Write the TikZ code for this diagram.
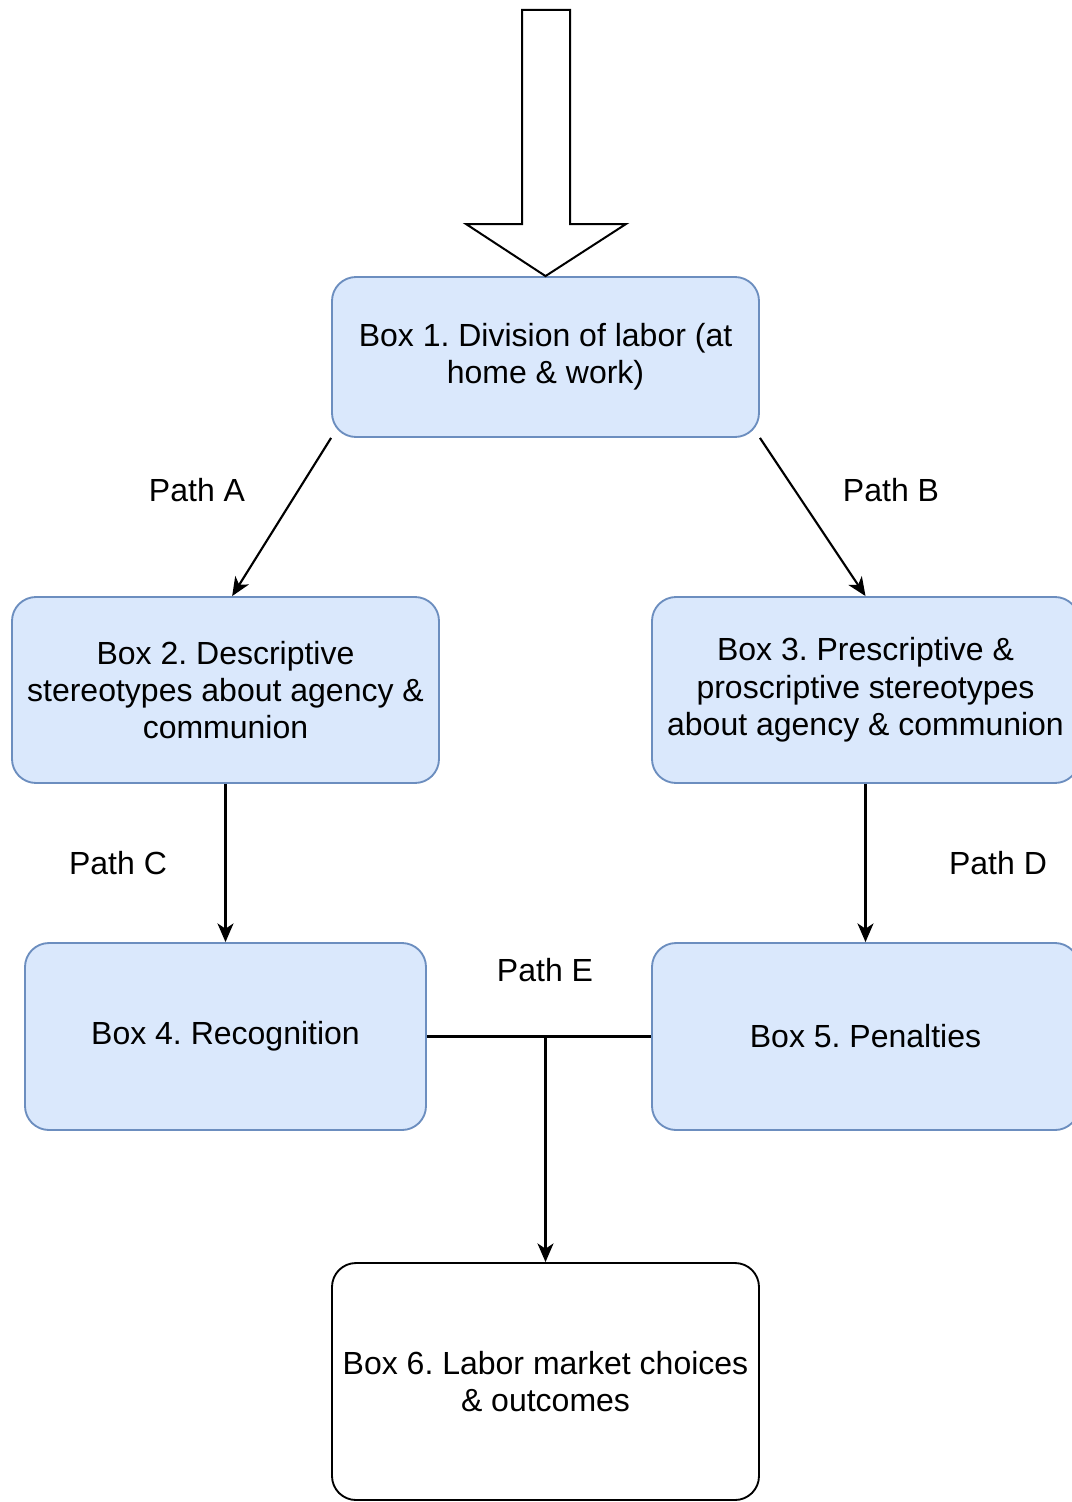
\documentclass[tikz,border=0pt]{standalone}
\usepackage{fontspec}
\setmainfont{Liberation Sans}
\usetikzlibrary{arrows.meta}
\definecolor{boxfill}{HTML}{DAE8FC}
\definecolor{boxline}{HTML}{6C8EBF}
\frenchspacing

\begin{document}
\begin{tikzpicture}[x=0.75pt,y=-0.75pt,>={Stealth[length=14pt,width=12pt,inset=4pt]},
    box/.style={draw=boxline,fill=boxfill,line width=1.4pt,rounded corners=18pt,
      align=center,inner sep=0pt,font=\fontsize{24}{28}\selectfont},
    endbox/.style={box,draw=black,fill=white},
    pathlabel/.style={font=\fontsize{24}{28}\selectfont},
    conn/.style={line width=1.6pt}]
    \useasboundingbox (0,0) rectangle (1071,1502);
    % boxes
    \node (b1) at (545.5,357) [box,minimum width=320.25pt,minimum height=120pt]{Box 1. Division of labor (at\\home \& work)};
    \node (b2) at (225.5,690) [box,minimum width=320.25pt,minimum height=139.5pt]{Box 2. Descriptive\\stereotypes about agency \&\\communion};
    \node (b3) at (865.5,690) [box,minimum width=320.25pt,minimum height=139.5pt]{Box 3. Prescriptive \&\\proscriptive stereotypes\\about agency \& communion};
    \node (b4) at (225.5,1036.5) [box,minimum width=300.75pt,minimum height=140.25pt]{Box 4. Recognition};
    \node (b5) at (865.5,1036.5) [box,minimum width=320.25pt,minimum height=140.25pt]{Box 5. Penalties};
    \node (b6) at (545.5,1381.5) [endbox,minimum width=320.25pt,minimum height=177.75pt]{Box 6. Labor market choices\\\& outcomes};
    % input arrow
    \draw[line width=1.5pt,fill=white] (b1.north) -- (466,224) -- (522,224) -- (522,10)
      -- (570,10) -- (570,224) -- (626,224) -- cycle;
    % path labels
    \node (la) at (197,490) [pathlabel]{Path A};
    \node (lb) at (891,490) [pathlabel]{Path B};
    \node (lc) at (118,863) [pathlabel]{Path C};
    \node (ld) at (998,863) [pathlabel]{Path D};
    \node (le) at (545,970) [pathlabel]{Path E};
    % edges
    \draw[conn,->] (b1.south west) -- ([xshift=5pt]b2.north);
    \draw[conn,->] (b1.south east) -- (b3.north);
    \draw[conn,->] (b2.south) -- (b4.north);
    \draw[conn,->] (b3.south) -- (b5.north);
    \draw[conn] (b4.east) -- (b5.west);
    \coordinate (join) at (b4.east -| b6.north);
    \draw[conn,->] (join) -- (b6.north);
\end{tikzpicture}
\end{document}
